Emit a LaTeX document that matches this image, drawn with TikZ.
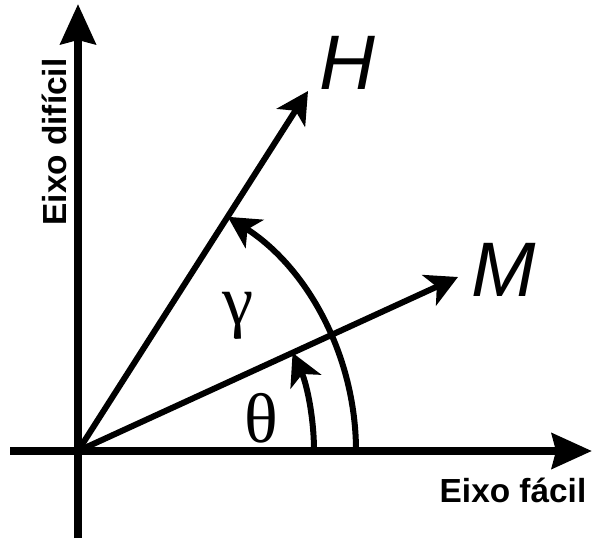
\documentclass[tikz,border=0pt]{standalone}
\usepackage{fontspec}
\setmainfont{Liberation Sans}
\newfontfamily\grfont{Liberation Serif}
\usetikzlibrary{arrows.meta,positioning,calc}
\tikzset{
  axisline/.style={line width=0.24cm,-{Stealth[length=1.2cm,width=1.05cm,inset=0.12cm]}},
  plainline/.style={line width=0.24cm},
  vecline/.style={line width=0.18cm,-{Stealth[length=0.95cm,width=1.0cm,inset=0.25cm]}},
  anglearc/.style={line width=0.18cm,-{Stealth[length=0.95cm,width=1.0cm,inset=0.25cm]}},
  axlab/.style={font=\fontsize{28.5}{32}\selectfont\bfseries,inner sep=0pt},
  veclab/.style={font=\fontsize{66}{70}\selectfont\itshape,inner sep=0pt},
  anglab/.style={font=\grfont\fontsize{60}{64}\selectfont,inner sep=0pt},
}

\begin{document}
\begin{tikzpicture}[x=0.03cm,y=0.03cm]
  \useasboundingbox (0,0) rectangle (598,538);

  % ---- axes ----
  \coordinate (O) at (78,87);
  \coordinate (xl) at (10,87);
  \coordinate (xr) at (592,87);
  \coordinate (yb) at (78,0);
  \coordinate (yt) at (78,534);
  \draw[plainline] (xl) -- (O);
  \draw[axisline] (O) -- (xr);
  \draw[plainline] (yb) -- (O);
  \draw[axisline] (O) -- (yt);
  \node[axlab] (easy) at (513,48) {Eixo fácil};
  \node[axlab,rotate=90] (hard) at (54,396) {Eixo difícil};

  % ---- vectors ----
  \coordinate (Htip) at (308,447);
  \coordinate (Mtip) at (458,261);
  \draw[vecline] (O) -- (Htip);
  \draw[vecline] (O) -- (Mtip);
  \node[veclab] (H) at (347,475) {H};
  \node[veclab] (M) at (504,268) {M};

  % ---- angles ----
  \draw[anglearc] ($(O)+(278,0)$) arc[start angle=0,end angle=57.4,radius=278];
  \draw[anglearc] ($(O)+(236,0)$) arc[start angle=0,end angle=24.6,radius=236];
  \node[anglab] (gamma) at (238,222) {γ};
  \node[anglab] (theta) at (261,120) {θ};
\end{tikzpicture}
\end{document}
